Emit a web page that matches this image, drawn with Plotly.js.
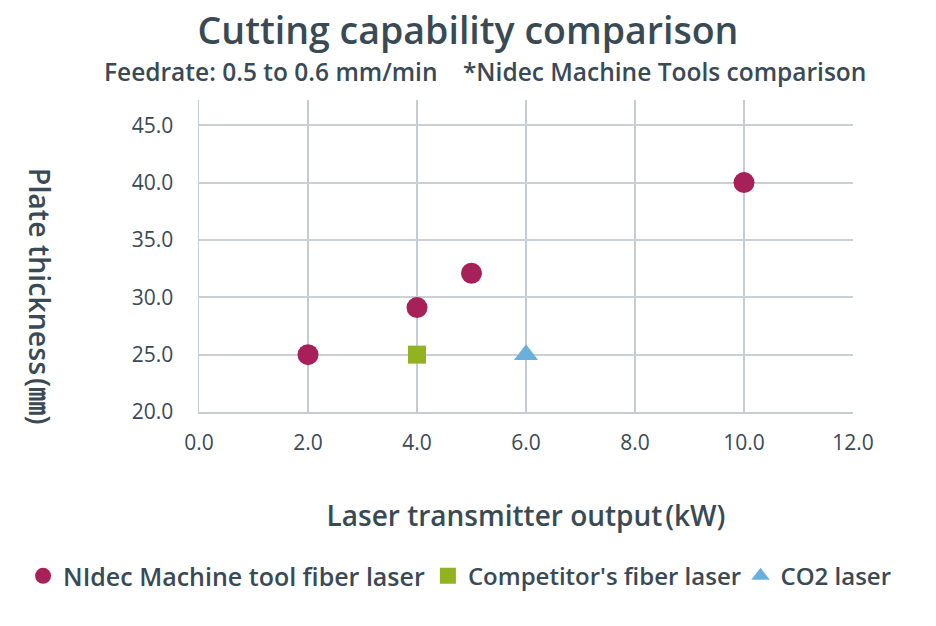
<!DOCTYPE html>
<html>
<head>
<meta charset="utf-8">
<script src="https://cdn.plot.ly/plotly-3.0.1.min.js"></script>
<style>html,body{margin:0;padding:0;background:#fff;}#chart{width:936px;height:626px;}</style>
</head>
<body>
<div id="chart"></div>
<script>
const nidecX = [2, 4, 5, 10];
const nidecY = [25, 29.1, 32.1, 40];
const compX = [4];
const compY = [25];
const co2X = [6];
const co2Y = [25];
const seriesNames = ["NIdec Machine tool fiber laser", "Competitor's fiber laser", "CO2 laser"];
const titleText = "Cutting capability comparison";
const subtitleText = "Feedrate: 0.5 to 0.6 mm/min&nbsp;&nbsp;&nbsp;&nbsp;*Nidec Machine Tools comparison";
const xTitle = "Laser transmitter output\u200A(kW)";
const yTitle = "Plate thickness\u200A(\u339C)";

const txt = '#3a4a55';
const FONT = 'Open Sans, Noto Sans CJK JP, sans-serif';

const traces = [
  {x: nidecX, y: nidecY, name: seriesNames[0], type: 'scatter', mode: 'markers', legend: 'legend',
   marker: {symbol: 'circle', size: 21, color: '#a8205a'}},
  {x: compX, y: compY, name: seriesNames[1], type: 'scatter', mode: 'markers', legend: 'legend2',
   marker: {symbol: 'square', size: 18, color: '#93b21f'}},
  {x: co2X, y: co2Y, name: seriesNames[2], type: 'scatter', mode: 'markers', legend: 'legend3',
   marker: {symbol: 'triangle-up', size: 21, color: '#6ab0da'}}
];

const legFont = {family: FONT, size: 24, color: txt, weight: 600};
const legBase = {orientation: 'h', xanchor: 'left', y: -0.526, yanchor: 'middle', font: legFont,
                 itemwidth: 30, bgcolor: 'rgba(0,0,0,0)'};

const layout = {
  width: 936, height: 626,
  margin: {l: 199, r: 83, t: 100, b: 214, pad: 0, autoexpand: false},
  paper_bgcolor: '#fff', plot_bgcolor: '#fff',
  font: {family: FONT, color: txt, size: 18},
  title: {text: titleText, x: 0.5, xanchor: 'center', y: 0.95, yanchor: 'middle',
          font: {family: FONT, size: 37.5, color: txt, weight: 600}},
  xaxis: {range: [0, 12], dtick: 2, tick0: 0, tickformat: '.1f',
          showgrid: true, gridcolor: '#c5ccd2', gridwidth: 1.5, zeroline: false,
          showline: true, linecolor: '#c5ccd2', linewidth: 1.5, ticks: '',
          ticklabelstandoff: 11,
          tickfont: {family: FONT, size: 21, color: txt, weight: 500},
          title: {text: xTitle, standoff: 51, font: {family: FONT, size: 28, color: txt, weight: 600}}},
  yaxis: {range: [20, 47.2], dtick: 5, tick0: 20, tickformat: '.1f',
          showgrid: true, gridcolor: '#c9d0d6', gridwidth: 2, zeroline: false,
          showline: true, linecolor: '#c5ccd2', linewidth: 1.5, ticks: '',
          ticklabelstandoff: 20,
          tickfont: {family: FONT, size: 21, color: txt, weight: 500}},
  showlegend: true,
  legend: Object.assign({}, legBase, {x: -0.269, font: Object.assign({}, legFont, {size: 25})}),
  legend2: Object.assign({}, legBase, {x: 0.350}),
  legend3: Object.assign({}, legBase, {x: 0.828}),
  annotations: [
    {text: subtitleText, xref: 'paper', yref: 'paper', x: 0.437, y: 1.0929, xanchor: 'center', yanchor: 'middle',
     showarrow: false, font: {family: FONT, size: 24.5, color: txt, weight: 600}},
    {text: yTitle, xref: 'paper', yref: 'paper', x: -0.243, y: 0.372, xanchor: 'center', yanchor: 'middle',
     textangle: 90, showarrow: false, font: {family: FONT, size: 28.5, color: txt, weight: 600}}
  ]
};

Plotly.newPlot('chart', traces, layout, {displayModeBar: false, staticPlot: true});
</script>
</body>
</html>
